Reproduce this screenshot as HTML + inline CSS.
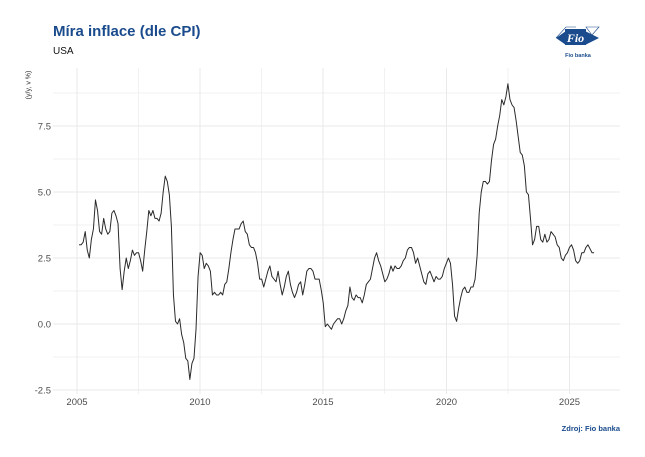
<!DOCTYPE html>
<html><head><meta charset="utf-8"><style>
html,body{margin:0;padding:0;background:#fff;}
svg{display:block;}
</style></head><body>
<svg width="645" height="457" viewBox="0 0 645 457" xmlns="http://www.w3.org/2000/svg" font-family="Liberation Sans, Arial, sans-serif">
<rect width="645" height="457" fill="#fff"/>
<!-- minor grid -->
<g stroke="#f1f1f1" stroke-width="1">
<line x1="53" x2="620" y1="357" y2="357"/>
<line x1="53" x2="620" y1="291" y2="291"/>
<line x1="53" x2="620" y1="225" y2="225"/>
<line x1="53" x2="620" y1="159" y2="159"/>
<line x1="53" x2="620" y1="93" y2="93"/>
<line x1="138.5" x2="138.5" y1="68" y2="394"/>
<line x1="261.5" x2="261.5" y1="68" y2="394"/>
<line x1="384.5" x2="384.5" y1="68" y2="394"/>
<line x1="508" x2="508" y1="68" y2="394"/>
</g>
<!-- major grid -->
<g stroke="#e9e9e9" stroke-width="1">
<line x1="53" x2="620" y1="390" y2="390"/>
<line x1="53" x2="620" y1="324" y2="324"/>
<line x1="53" x2="620" y1="258" y2="258"/>
<line x1="53" x2="620" y1="192" y2="192"/>
<line x1="53" x2="620" y1="126" y2="126"/>
<line x1="77" x2="77" y1="68" y2="394"/>
<line x1="200" x2="200" y1="68" y2="394"/>
<line x1="323" x2="323" y1="68" y2="394"/>
<line x1="446.5" x2="446.5" y1="68" y2="394"/>
<line x1="569.5" x2="569.5" y1="68" y2="394"/>
</g>
<!-- y labels -->
<g font-size="9.5" fill="#4d4d4d" text-anchor="end">
<text x="51" y="393.5">-2.5</text>
<text x="51" y="327.5">0.0</text>
<text x="51" y="261.5">2.5</text>
<text x="51" y="195.5">5.0</text>
<text x="51" y="129.5">7.5</text>
</g>
<!-- x labels -->
<g font-size="9.5" fill="#4d4d4d" text-anchor="middle">
<text x="77" y="405">2005</text>
<text x="200" y="405">2010</text>
<text x="323" y="405">2015</text>
<text x="446.5" y="405">2020</text>
<text x="569.5" y="405">2025</text>
</g>
<text transform="translate(30.5,85) rotate(-90)" font-size="7" fill="#333" text-anchor="middle">(y/y, v %)</text>
<!-- title -->
<text x="53" y="36" font-size="15" font-weight="bold" fill="#1a4b8c">Míra inflace (dle CPI)</text>
<text x="53" y="54" font-size="10" fill="#111">USA</text>
<text x="620" y="431" font-size="7.5" font-weight="bold" fill="#1a4b8c" text-anchor="end">Zdroj: Fio banka</text>
<!-- logo -->
<g>
<polygon points="556,38 566,31 566,45" fill="#1a4b8c"/>
<polyline points="556,38 566,27 576,27" fill="none" stroke="#1a4b8c" stroke-width="0.6"/>
<rect x="565" y="29" width="21" height="16" fill="#1a4b8c"/>
<polygon points="585,31 585,45 599,38" fill="#1a4b8c"/>
<polygon points="586,27 599,27 592,35" fill="#fff" stroke="#1a4b8c" stroke-width="0.6"/>
<text x="575.5" y="42" font-family="Liberation Serif, serif" font-style="italic" font-weight="bold" font-size="12" fill="#fff" text-anchor="middle">Fio</text>
<text x="578" y="57" font-size="5.5" font-weight="bold" fill="#1a4b8c" text-anchor="middle">Fio banka</text>
</g>
<!-- series -->
<g transform="translate(77,324) scale(2.052,-26.4)">
<polyline fill="none" stroke="#2a2a2a" stroke-width="1" vector-effect="non-scaling-stroke" stroke-linejoin="round" points="
1,3.0 2,3.0 3,3.1 4,3.5 5,2.8 6,2.5 7,3.2 8,3.6 9,4.7 10,4.3 11,3.5 12,3.4
13,4.0 14,3.6 15,3.4 16,3.5 17,4.2 18,4.3 19,4.1 20,3.8 21,2.1 22,1.3 23,2.0 24,2.5
25,2.1 26,2.4 27,2.8 28,2.6 29,2.7 30,2.7 31,2.4 32,2.0 33,2.8 34,3.5 35,4.3 36,4.1
37,4.3 38,4.0 39,4.0 40,3.9 41,4.2 42,5.0 43,5.6 44,5.4 45,4.9 46,3.7 47,1.1 48,0.1
49,0.0 50,0.2 51,-0.4 52,-0.7 53,-1.3 54,-1.4 55,-2.1 56,-1.5 57,-1.3 58,-0.2 59,1.8 60,2.7
61,2.6 62,2.1 63,2.3 64,2.2 65,2.0 66,1.1 67,1.2 68,1.1 69,1.1 70,1.2 71,1.1 72,1.5
73,1.6 74,2.1 75,2.7 76,3.2 77,3.6 78,3.6 79,3.6 80,3.8 81,3.9 82,3.5 83,3.4 84,3.0
85,2.9 86,2.9 87,2.7 88,2.3 89,1.7 90,1.7 91,1.4 92,1.7 93,2.0 94,2.2 95,1.8 96,1.7
97,1.6 98,2.0 99,1.5 100,1.1 101,1.4 102,1.8 103,2.0 104,1.5 105,1.2 106,1.0 107,1.2 108,1.5
109,1.6 110,1.1 111,1.5 112,2.0 113,2.1 114,2.1 115,2.0 116,1.7 117,1.7 118,1.7 119,1.3 120,0.8
121,-0.1 122,0.0 123,-0.1 124,-0.2 125,0.0 126,0.1 127,0.2 128,0.2 129,0.0 130,0.2 131,0.5 132,0.7
133,1.4 134,1.0 135,0.9 136,1.1 137,1.0 138,1.0 139,0.8 140,1.1 141,1.5 142,1.6 143,1.7 144,2.1
145,2.5 146,2.7 147,2.4 148,2.2 149,1.9 150,1.6 151,1.7 152,1.9 153,2.2 154,2.0 155,2.2 156,2.1
157,2.1 158,2.2 159,2.4 160,2.5 161,2.8 162,2.9 163,2.9 164,2.7 165,2.3 166,2.5 167,2.2 168,1.9
169,1.6 170,1.5 171,1.9 172,2.0 173,1.8 174,1.6 175,1.8 176,1.7 177,1.7 178,1.8 179,2.1 180,2.3
181,2.5 182,2.3 183,1.5 184,0.3 185,0.1 186,0.6 187,1.0 188,1.3 189,1.4 190,1.2 191,1.2 192,1.4
193,1.4 194,1.7 195,2.6 196,4.2 197,5.0 198,5.4 199,5.4 200,5.3 201,5.4 202,6.2 203,6.8 204,7.0
205,7.5 206,7.9 207,8.5 208,8.3 209,8.6 210,9.1 211,8.5 212,8.3 213,8.2 214,7.7 215,7.1 216,6.5
217,6.4 218,6.0 219,5.0 220,4.9 221,4.0 222,3.0 223,3.2 224,3.7 225,3.7 226,3.2 227,3.1 228,3.4
229,3.1 230,3.2 231,3.5 232,3.4 233,3.3 234,3.0 235,2.9 236,2.5 237,2.4 238,2.6 239,2.7 240,2.9
241,3.0 242,2.8 243,2.4 244,2.3 245,2.4 246,2.7 247,2.7 248,2.9 249,3.0 251,2.7 252,2.7"/>
</g>
</svg>
</body></html>
